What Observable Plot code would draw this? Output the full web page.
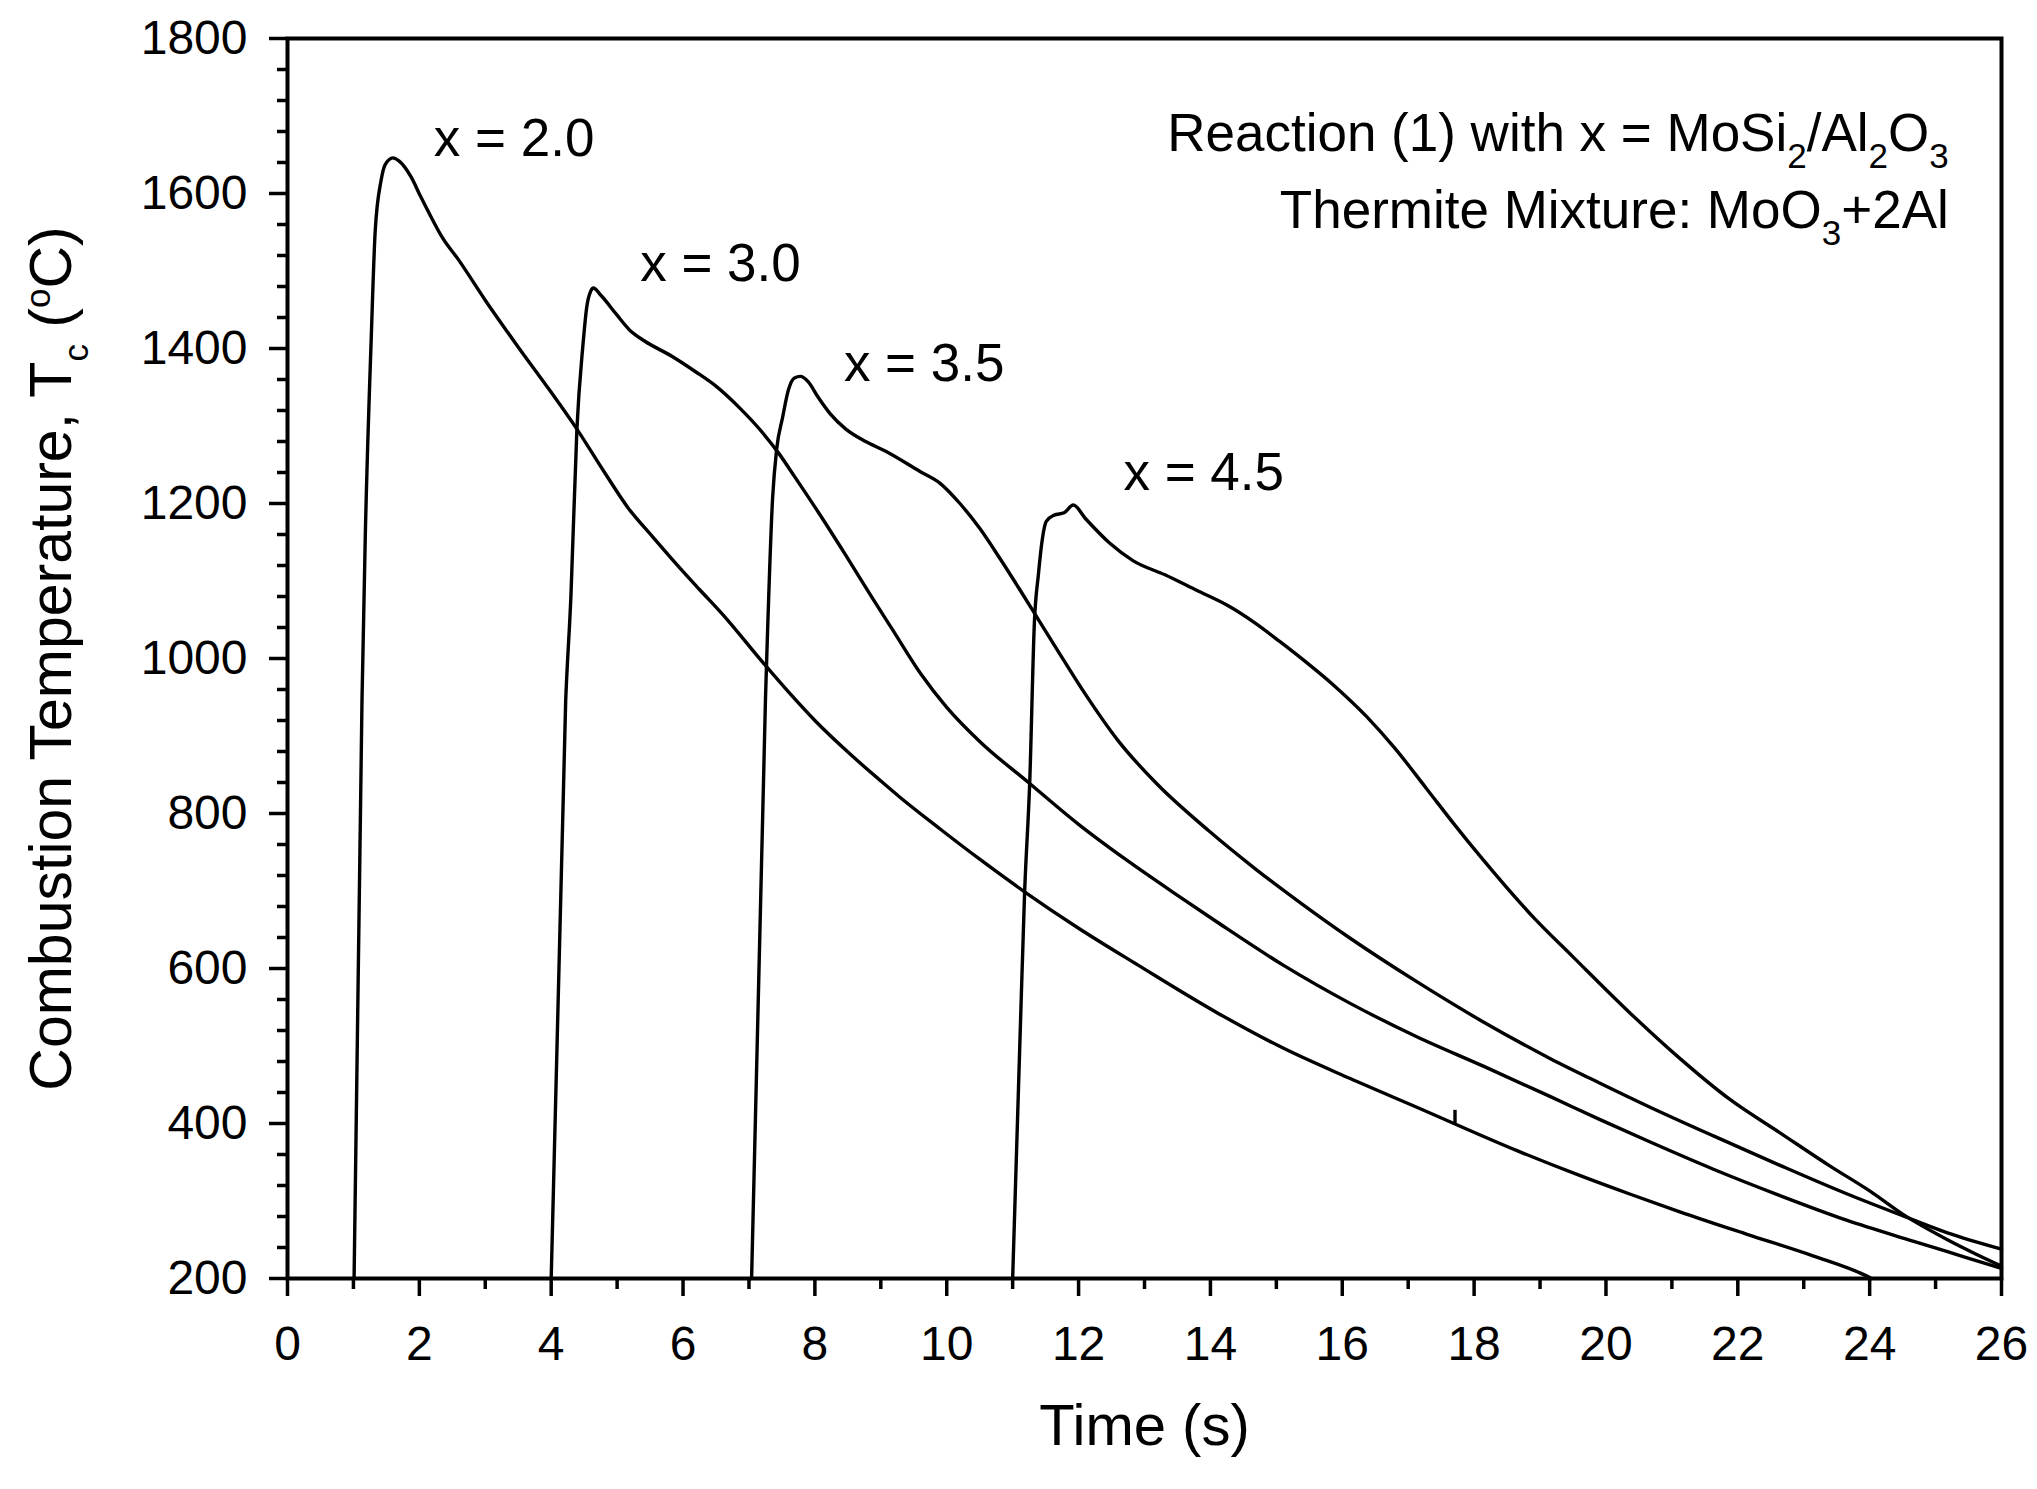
<!DOCTYPE html>
<html>
<head>
  <meta charset="utf-8">
  <!-- load d3 and plot -->
  <script src="https://cdn.jsdelivr.net/npm/d3@7"></script>
  <script src="https://cdn.jsdelivr.net/npm/@observablehq/plot@0.6"></script>
  <style>
    body { margin: 0; background: white; }
  </style>
</head>
<body>
  <div id="chart"></div>
  <script>
    // x = 2.0
    const timeX20 = [1.01, 1.13, 1.18, 1.27, 1.33, 1.42, 1.48, 1.60, 1.69, 1.87, 2.02, 2.17, 2.35, 2.59, 3.01, 3.49, 3.97, 4.39, 4.81, 5.17, 5.53, 5.95, 6.25, 6.61, 7.21, 7.63, 8.00, 8.53, 9.00, 9.29, 9.90, 10.50, 11.18, 12.00, 12.89, 14.10, 15.11, 16.12, 17.13, 18.65, 19.60, 20.36, 21.12, 22.14, 23.15, 23.91, 24.03];
    const tempX20 = [200, 946, 1158, 1413, 1551, 1617, 1637, 1646, 1642, 1622, 1596, 1571, 1543, 1515, 1461, 1403, 1347, 1296, 1240, 1194, 1158, 1117, 1089, 1056, 995, 954, 920, 877, 842, 821, 780, 741, 699, 652, 605, 543, 497, 458, 421, 365, 333, 309, 286, 257, 229, 205, 200];
    // x = 3.0
    const timeX30 = [4.00, 4.22, 4.30, 4.39, 4.48, 4.54, 4.60, 4.64, 4.75, 4.99, 5.20, 5.41, 5.83, 6.19, 6.49, 6.85, 7.21, 7.45, 7.69, 8.05, 8.47, 8.88, 9.18, 9.60, 10.00, 10.50, 11.24, 12.00, 12.71, 13.49, 14.10, 15.11, 16.12, 17.13, 18.14, 19.15, 19.91, 20.62, 21.63, 22.64, 23.66, 24.67, 25.43, 26.00];
    const tempX30 = [200, 946, 1082, 1296, 1403, 1454, 1474, 1478, 1469, 1444, 1423, 1410, 1390, 1370, 1352, 1324, 1291, 1265, 1235, 1189, 1133, 1077, 1037, 981, 937, 893, 840, 786, 741, 695, 660, 604, 555, 512, 474, 435, 405, 378, 341, 307, 275, 248, 228, 213];
    // x = 3.5
    const timeX35 = [7.04, 7.25, 7.36, 7.42, 7.51, 7.60, 7.69, 7.78, 7.90, 8.05, 8.23, 8.47, 8.77, 9.06, 9.60, 9.90, 10.20, 10.50, 10.80, 11.10, 11.37, 11.70, 12.11, 12.59, 13.19, 13.97, 14.69, 15.36, 16.12, 17.13, 18.14, 19.15, 19.91, 20.62, 21.63, 22.64, 23.66, 24.50, 25.18, 26.00];
    const tempX35 = [200, 946, 1209, 1270, 1311, 1347, 1362, 1364, 1357, 1337, 1316, 1296, 1280, 1268, 1241, 1226, 1200, 1168, 1130, 1090, 1053, 1008, 953, 895, 838, 778, 728, 685, 639, 583, 531, 484, 452, 423, 384, 346, 309, 281, 259, 238];
    // x = 4.5
    const timeX45 = [11.00, 11.12, 11.18, 11.26, 11.33, 11.39, 11.45, 11.51, 11.63, 11.78, 11.92, 12.11, 12.47, 12.83, 13.31, 13.79, 14.27, 14.69, 15.05, 15.47, 15.89, 16.37, 16.79, 17.27, 17.69, 18.11, 18.90, 19.50, 20.36, 21.12, 21.88, 22.64, 23.40, 24.00, 24.50, 25.18, 25.60, 26.00];
    const tempX45 = [200, 533, 695, 843, 1047, 1108, 1154, 1177, 1185, 1188, 1198, 1180, 1149, 1126, 1108, 1088, 1068, 1045, 1022, 994, 964, 925, 885, 833, 787, 743, 666, 615, 543, 484, 431, 388, 345, 313, 283, 250, 232, 216];

    // small glitch on the x = 2.0 trace
    const glitchTime = [17.71];
    const glitchLow = [398];
    const glitchHigh = [417];

    // curve labels
    const labelText = ["x = 2.0", "x = 3.0", "x = 3.5", "x = 4.5"];
    const labelTime = [2.22, 5.35, 8.44, 12.68];
    const labelTemp = [1670, 1509, 1380, 1239];

    // note in the top right corner
    const noteLines = ["Reaction (1) with x = MoSi_{2}/Al_{2}O_{3}", "Thermite Mixture: MoO_{3}+2Al"];
    const noteTemp = [1677, 1577];
    const noteTime = 25.2;

    // ticks
    const xMajorTicks = [0, 2, 4, 6, 8, 10, 12, 14, 16, 18, 20, 22, 24, 26];
    const xMinorTicks = [1, 3, 5, 7, 9, 11, 13, 15, 17, 19, 21, 23, 25];
    const yMajorTicks = [200, 400, 600, 800, 1000, 1200, 1400, 1600, 1800];
    const yMinorTicks = [240, 280, 320, 360, 440, 480, 520, 560, 640, 680, 720, 760, 840, 880, 920, 960,
                         1040, 1080, 1120, 1160, 1240, 1280, 1320, 1360, 1440, 1480, 1520, 1560, 1640, 1680, 1720, 1760];

    const xTitle = "Time (s)";
    const yTitle = "Combustion Temperature, T_{c} (^{o}C)";

    // long table for the line mark
    const series = [
      {name: "2.0", t: timeX20, T: tempX20},
      {name: "3.0", t: timeX30, T: tempX30},
      {name: "3.5", t: timeX35, T: tempX35},
      {name: "4.5", t: timeX45, T: tempX45}
    ];
    const rows = series.flatMap(s => s.t.map((t, i) => ({series: s.name, t, T: s.T[i]})));
    const glitches = glitchTime.map((t, i) => ({t, lo: glitchLow[i], hi: glitchHigh[i]}));
    const labels = labelText.map((text, i) => ({text, t: labelTime[i], T: labelTemp[i]}));
    const notes = noteLines.map((text, i) => ({text, t: noteTime, T: noteTemp[i]}));

    const font = "'Liberation Sans', Arial, sans-serif";

    const chart = Plot.plot({
      width: 2037,
      height: 1489,
      marginLeft: 287,
      marginRight: 36,
      marginTop: 38,
      marginBottom: 211,
      style: {fontFamily: font, fontSize: "48px", color: "black", background: "white"},
      x: {domain: [0, 26]},
      y: {domain: [200, 1800]},
      marks: [
        Plot.axisX({ticks: xMajorTicks, tickSize: 18, tickPadding: 29, strokeWidth: 3.5, fontSize: 48, tickFormat: "d", label: null}),
        Plot.axisX({ticks: xMinorTicks, tickSize: 11, strokeWidth: 3.5, text: null, label: null}),
        Plot.axisY({ticks: yMajorTicks, tickSize: 18, tickPadding: 22, strokeWidth: 3.5, fontSize: 48, tickFormat: "d", label: null}),
        Plot.axisY({ticks: yMinorTicks, tickSize: 10, strokeWidth: 3.5, text: null, label: null}),
        Plot.frame({stroke: "black", strokeWidth: 4}),
        Plot.line(rows, {x: "t", y: "T", z: "series", stroke: "black", strokeWidth: 3.4, curve: "monotone-x"}),
        Plot.ruleX(glitches, {x: "t", y1: "lo", y2: "hi", stroke: "black", strokeWidth: 3.4}),
        Plot.text(labels, {x: "t", y: "T", text: "text", textAnchor: "start", fontSize: 53}),
        Plot.text(notes, {x: "t", y: "T", text: "text", textAnchor: "end", fontSize: 53}),
        Plot.text([xTitle], {text: d => d, frameAnchor: "bottom", dy: 166, fontSize: 58}),
        Plot.text([yTitle], {text: d => d, frameAnchor: "left", textAnchor: "middle", dx: -235, rotate: -90, fontSize: 59})
      ]
    });

    // turn _{..} and ^{..} into sub/superscript tspans
    d3.select(chart).selectAll("text").each(function() {
      const txt = this.textContent;
      if (!/[_^]\{/.test(txt)) return;
      const size = parseFloat(getComputedStyle(this).fontSize) || 50;
      const parts = txt.split(/([_^]\{[^}]*\})/).filter(p => p !== "");
      const el = d3.select(this);
      el.text(null);
      let shift = 0;
      for (const p of parts) {
        const m = p.match(/^([_^])\{([^}]*)\}$/);
        const ts = el.append("tspan");
        if (m) {
          const target = m[1] === "_" ? size * 0.34 : -size * 0.42;
          ts.attr("dy", target - shift).attr("font-size", size * 0.7).text(m[2]);
          shift = target;
        } else {
          ts.attr("dy", -shift).text(p);
          shift = 0;
        }
      }
    });

    document.getElementById("chart").appendChild(chart);
  </script>
</body>
</html>
